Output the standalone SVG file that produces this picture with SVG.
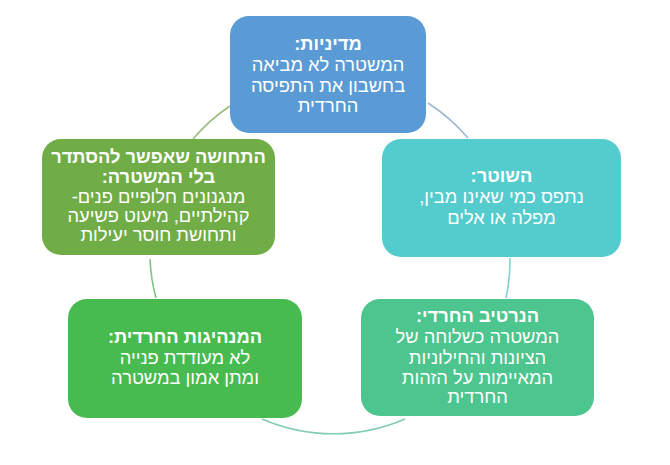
<svg xmlns="http://www.w3.org/2000/svg" width="670" height="465" viewBox="0 0 670 465">
<style>
.arc{fill:none;stroke-width:1.6;}
.box{stroke:none;}
text{font-family:"Liberation Sans",Arial,sans-serif;font-size:18.3px;fill:#ffffff;text-anchor:middle;direction:rtl;}
.b{font-weight:bold;}
</style>
<rect width="670" height="465" fill="#ffffff"/>
<g id="connectors">
<path class="arc" stroke="#9DB7D4" d="M 428 103 A 180 180 0 0 1 468 138"/>
<path class="arc" stroke="#7FCFD0" d="M 510 258 A 180 180 0 0 1 506 298"/>
<path class="arc" stroke="#80CDB0" d="M 405 419 A 180 180 0 0 1 262 419"/>
<path class="arc" stroke="#7FC384" d="M 156 298 A 180 180 0 0 1 150 259"/>
<path class="arc" stroke="#9CBB82" d="M 193 139 A 180 180 0 0 1 230 106"/>
</g>
<g id="node-top">
<rect class="box" x="230" y="16" width="196" height="117" rx="19" fill="#5B9BD5"/>
<text x="328" y="50" class="b">מדיניות:</text>
<text x="328" y="71">המשטרה לא מביאה</text>
<text x="328" y="92">בחשבון את התפיסה</text>
<text x="328" y="112">החרדית</text>
</g>
<g id="node-right">
<rect class="box" x="382" y="139" width="239" height="118" rx="19" fill="#54CCCD"/>
<text x="501.5" y="182" class="b">השוטר:</text>
<text x="501.5" y="203">נתפס כמי שאינו מבין,</text>
<text x="501.5" y="224">מפלה או אלים</text>
</g>
<g id="node-bottom-right">
<rect class="box" x="361" y="299" width="233" height="117" rx="19" fill="#4DC58E"/>
<text x="477.5" y="322" class="b">הנרטיב החרדי:</text>
<text x="477.5" y="343">המשטרה כשלוחה של</text>
<text x="477.5" y="364">הציונות והחילוניות</text>
<text x="477.5" y="384">המאיימות על הזהות</text>
<text x="477.5" y="403">החרדית</text>
</g>
<g id="node-bottom-left">
<rect class="box" x="68" y="299" width="234" height="119" rx="19" fill="#47BB50"/>
<text x="185" y="343" class="b">המנהיגות החרדית:</text>
<text x="185" y="364">לא מעודדת פנייה</text>
<text x="185" y="384">ומתן אמון במשטרה</text>
</g>
<g id="node-left">
<rect class="box" x="42" y="139" width="233" height="116" rx="19" fill="#70AD47"/>
<text x="158.5" y="163" class="b">התחושה שאפשר להסתדר</text>
<text x="158.5" y="183" class="b">בלי המשטרה:</text>
<text x="158.5" y="203">מנגנונים חלופיים פנים-</text>
<text x="158.5" y="222">קהילתיים, מיעוט פשיעה</text>
<text x="158.5" y="241">ותחושת חוסר יעילות</text>
</g>
</svg>
